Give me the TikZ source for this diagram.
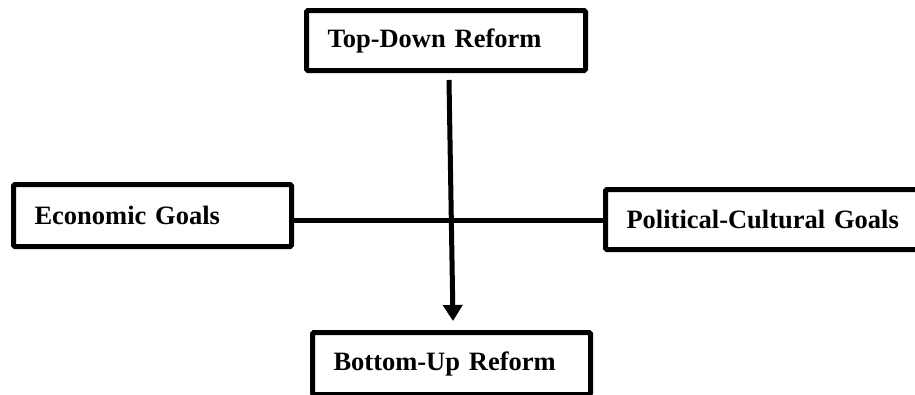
\documentclass[tikz,border=0pt]{standalone}
\usepackage{fontspec}
\setmainfont{Liberation Serif}
\usetikzlibrary{arrows.meta}
\begin{document}
\begin{tikzpicture}[x=1pt,y=-1pt,
  box/.style={draw=black, line width=5pt, rounded corners=1.5pt, fill=white,
    inner xsep=21pt, inner ysep=0pt, align=left,
    font=\fontsize{26.5}{30}\selectfont\bfseries},
  link/.style={line width=5pt},
  flow/.style={line width=5pt, -{Triangle[length=16pt,width=19pt]}}]
\useasboundingbox (0,0) rectangle (915,394);

% the four goal / reform boxes
\node[box, minimum height=60pt, text width=237pt] (top)  at (446,40.5)  {Top-Down Reform};
\node[box, minimum height=62pt, text width=236pt] (econ) at (152.5,215.5) {Economic Goals};
\node[box, minimum height=60pt, text width=285pt] (pol)  at (769,219.5) {Political-Cultural Goals};
\node[box, minimum height=62pt, text width=236pt] (bot)  at (451.5,363.5) {Bottom-Up Reform};

% horizontal axis between the goals
\coordinate (cross) at (451,220);
\draw[link] (econ.east |- cross) -- (pol.west |- cross);

% vertical arrow from top-down to bottom-up
\draw[flow] ([xshift=3pt,yshift=-7pt]top.south) -- ([xshift=1.5pt,yshift=9pt]bot.north);
\end{tikzpicture}
\end{document}
